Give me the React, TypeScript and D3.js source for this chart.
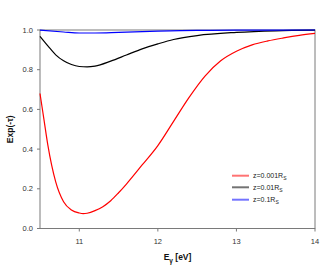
import { useEffect, useRef } from "react";
import * as d3 from "d3";

const energyRed = [10.5, 10.55, 10.6, 10.7, 10.8, 10.9, 11.0, 11.05, 11.1, 11.2, 11.3, 11.4, 11.5, 11.6, 11.8, 12.0, 12.2, 12.4, 12.6, 12.8, 13.0, 13.2, 13.4, 13.6, 13.8, 14.0];
const red001 = [0.68, 0.55, 0.42, 0.235, 0.135, 0.093, 0.078, 0.075, 0.077, 0.09, 0.11, 0.14, 0.18, 0.224, 0.32, 0.418, 0.54, 0.662, 0.768, 0.845, 0.893, 0.925, 0.945, 0.96, 0.973, 0.983];

const energyBlack = [10.5, 10.6, 10.7, 10.8, 10.9, 11.0, 11.1, 11.2, 11.4, 11.6, 11.8, 12.0, 12.2, 12.5, 13.0, 13.5, 14.0];
const black01 = [0.968, 0.92, 0.875, 0.845, 0.826, 0.816, 0.814, 0.818, 0.843, 0.874, 0.905, 0.93, 0.952, 0.972, 0.988, 0.996, 0.999];

const energyBlue = [10.5, 10.8, 11.0, 11.2, 11.5, 12.0, 12.5, 13.0, 14.0];
const blue1 = [0.999, 0.99, 0.985, 0.985, 0.988, 0.994, 0.998, 0.999, 1.0];

const seriesLabels = ["z=0.001R", "z=0.01R", "z=0.1R"];
const seriesColors = ["#ff0000", "#000000", "#0000ff"];
const xTicks = [11, 12, 13, 14];
const yTicks = [0, 0.2, 0.4, 0.6, 0.8, 1.0];

export default function App() {
  const ref = useRef<SVGSVGElement | null>(null);

  useEffect(() => {
    const svg = d3.select(ref.current);
    svg.selectAll("*").remove();
    const width = 332;
    const height = 268;
    const left = 40, right = 315, top = 30, bottom = 228.5;
    const font = "Liberation Sans, Arial, sans-serif";
    const axisColor = "#7a7a7a";

    svg.attr("width", width).attr("height", height);

    const x = d3.scaleLinear().domain([10.5, 14]).range([left, right]);
    const y = d3.scaleLinear().domain([0, 1]).range([bottom, top]);

    const g = svg.append("g");

    // frame
    g.append("rect")
      .attr("x", left).attr("y", top)
      .attr("width", right - left).attr("height", bottom - top)
      .attr("fill", "none").attr("stroke", axisColor).attr("stroke-width", 1);

    // y ticks
    yTicks.forEach((t) => {
      g.append("line")
        .attr("x1", left - 3).attr("x2", left)
        .attr("y1", y(t)).attr("y2", y(t))
        .attr("stroke", axisColor);
      g.append("text")
        .attr("x", left - 7).attr("y", y(t))
        .attr("dy", "0.35em")
        .attr("text-anchor", "end")
        .attr("font-family", font).attr("font-size", 7.5)
        .attr("fill", "#333")
        .text(d3.format(".1f")(t));
    });

    // x ticks
    xTicks.forEach((t) => {
      g.append("line")
        .attr("x1", x(t)).attr("x2", x(t))
        .attr("y1", bottom).attr("y2", bottom + 3)
        .attr("stroke", axisColor);
      g.append("text")
        .attr("x", x(t)).attr("y", bottom + 15)
        .attr("text-anchor", "middle")
        .attr("font-family", font).attr("font-size", 7.5)
        .attr("fill", "#333")
        .text(t);
    });

    const line = d3.line<[number, number]>()
      .x((d) => x(d[0]))
      .y((d) => y(d[1]))
      .curve(d3.curveMonotoneX);

    const series: [number[], number[]][] = [
      [energyRed, red001],
      [energyBlack, black01],
      [energyBlue, blue1],
    ];

    series.forEach(([xs, ys], i) => {
      const pts = xs.map((v, j) => [v, ys[j]] as [number, number]);
      g.append("path")
        .attr("d", line(pts) || "")
        .attr("fill", "none")
        .attr("stroke", seriesColors[i])
        .attr("stroke-width", 1.2);
    });

    // axis titles
    const yl = g.append("text")
      .attr("transform", `translate(13, ${(top + bottom) / 2}) rotate(-90)`)
      .attr("text-anchor", "middle")
      .attr("font-family", font).attr("font-size", 8.5)
      .attr("font-weight", "bold")
      .attr("fill", "#111");
    yl.text("Exp(-τ)");

    const xl = g.append("text")
      .attr("x", (left + right) / 2).attr("y", 260)
      .attr("text-anchor", "middle")
      .attr("font-family", font).attr("font-size", 8.5)
      .attr("font-weight", "bold")
      .attr("fill", "#111");
    xl.append("tspan").text("E");
    xl.append("tspan").attr("font-size", 6.5).attr("dy", 2.5).text("γ");
    xl.append("tspan").attr("dy", -2.5).text(" [eV]");

    // legend
    const legendY = [175.7, 187.3, 199.7];
    seriesLabels.forEach((lab, i) => {
      g.append("line")
        .attr("x1", 232).attr("x2", 249)
        .attr("y1", legendY[i]).attr("y2", legendY[i])
        .attr("stroke", seriesColors[i])
        .attr("stroke-opacity", 0.55)
        .attr("stroke-width", 2);
      const t = g.append("text")
        .attr("x", 253).attr("y", legendY[i])
        .attr("dy", "0.35em")
        .attr("font-family", font).attr("font-size", 7)
        .attr("fill", "#222");
      t.append("tspan").text(lab);
      t.append("tspan").attr("font-size", 5).attr("dy", 2).text("S");
    });
  }, []);

  return (
    <svg
      ref={ref}
      style={{ position: "absolute", left: 0, top: 0, display: "block" }}
    ></svg>
  );
}
